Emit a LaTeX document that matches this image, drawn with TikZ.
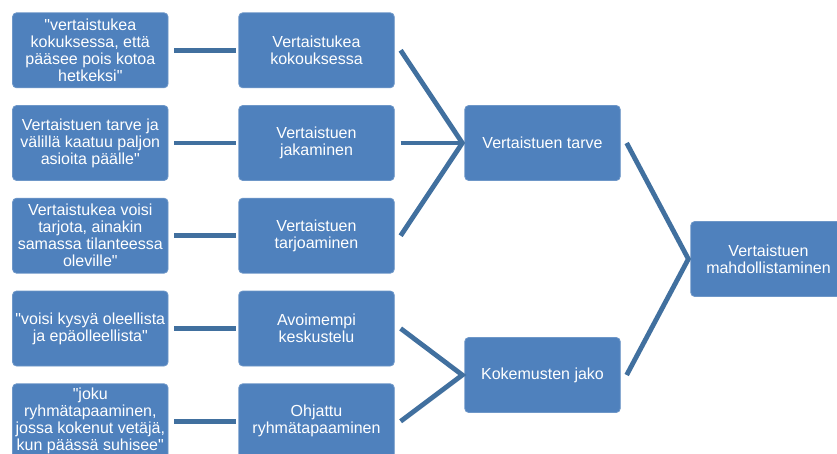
\documentclass[tikz,border=0pt]{standalone}
\usepackage{fontspec}
\newfontfamily\boxfont{Liberation Sans}
\definecolor{boxblue}{HTML}{4F81BD}
\definecolor{boxedge}{HTML}{6E97C8}
\definecolor{linkblue}{HTML}{41709F}
\tikzset{
  card/.style={rectangle, rounded corners=4pt, fill=boxblue, draw=boxedge, line width=0.8pt,
    minimum width=155.5pt, minimum height=75pt, inner sep=2pt, align=center,
    text=white, font=\boxfont\fontsize{16}{17}\selectfont},
  link/.style={draw=linkblue, line width=4.8pt, line join=miter}
}
\begin{document}
\begin{tikzpicture}[x=1pt,y=-1pt]
\useasboundingbox (0,0) rectangle (837,453);
\clip (0,0) rectangle (837,453);
\fill[white] (0,0) rectangle (837,453);

% quotes column
\node[card] (q1) at (90.3,50.3)  {"vertaistukea\\kokuksessa, että\\pääsee pois kotoa\\hetkeksi"};
\node[card] (q2) at (90.3,143)   {Vertaistuen tarve ja\\välillä kaatuu paljon\\asioita päälle"};
\node[card] (q3) at (90.3,235.7) {Vertaistukea voisi\\tarjota, ainakin\\samassa tilanteessa\\oleville"};
\node[card] (q4) at (90.3,328.5) {"voisi kysyä oleellista\\ja epäolleellista"};
\node[card] (q5) at (90.3,421.3) {"joku\\ryhmätapaaminen,\\jossa kokenut vetäjä,\\kun päässä suhisee"};

% sub-themes
\node[card] (s1) at (316.5,50.3)  {Vertaistukea\\kokouksessa};
\node[card] (s2) at (316.5,143)   {Vertaistuen\\jakaminen};
\node[card] (s3) at (316.5,235.7) {Vertaistuen\\tarjoaminen};
\node[card] (s4) at (316.5,328.5) {Avoimempi\\keskustelu};
\node[card] (s5) at (316.5,421.3) {Ohjattu\\ryhmätapaaminen};

% themes
\node[card] (t1) at (542.5,143) {Vertaistuen tarve};
\node[card] (t2) at (542.5,375) {Kokemusten jako};

% main theme
\node[card] (m) at (768.5,259) {Vertaistuen\\mahdollistaminen};

% quote -> sub-theme links
\foreach \i in {1,...,5}
  \draw[link] ([xshift=6pt]q\i.east) -- ([xshift=-2.5pt]s\i.west);

% sub-theme -> theme forks
\coordinate (a1) at ([xshift=-2pt]t1.west);
\coordinate (a2) at ([xshift=-2pt]t2.west);
\coordinate (a3) at ([xshift=-2pt]m.west);
\draw[link] ([xshift=6pt]s1.east) -- (a1) -- ([xshift=6pt]s3.east);
\draw[link] ([xshift=6pt]s2.east) -- (a1);
\draw[link] ([xshift=6pt]s4.east) -- (a2) -- ([xshift=6pt]s5.east);

% theme -> main theme fork
\draw[link] ([xshift=6pt]t1.east) -- (a3) -- ([xshift=6pt]t2.east);
\end{tikzpicture}
\end{document}
